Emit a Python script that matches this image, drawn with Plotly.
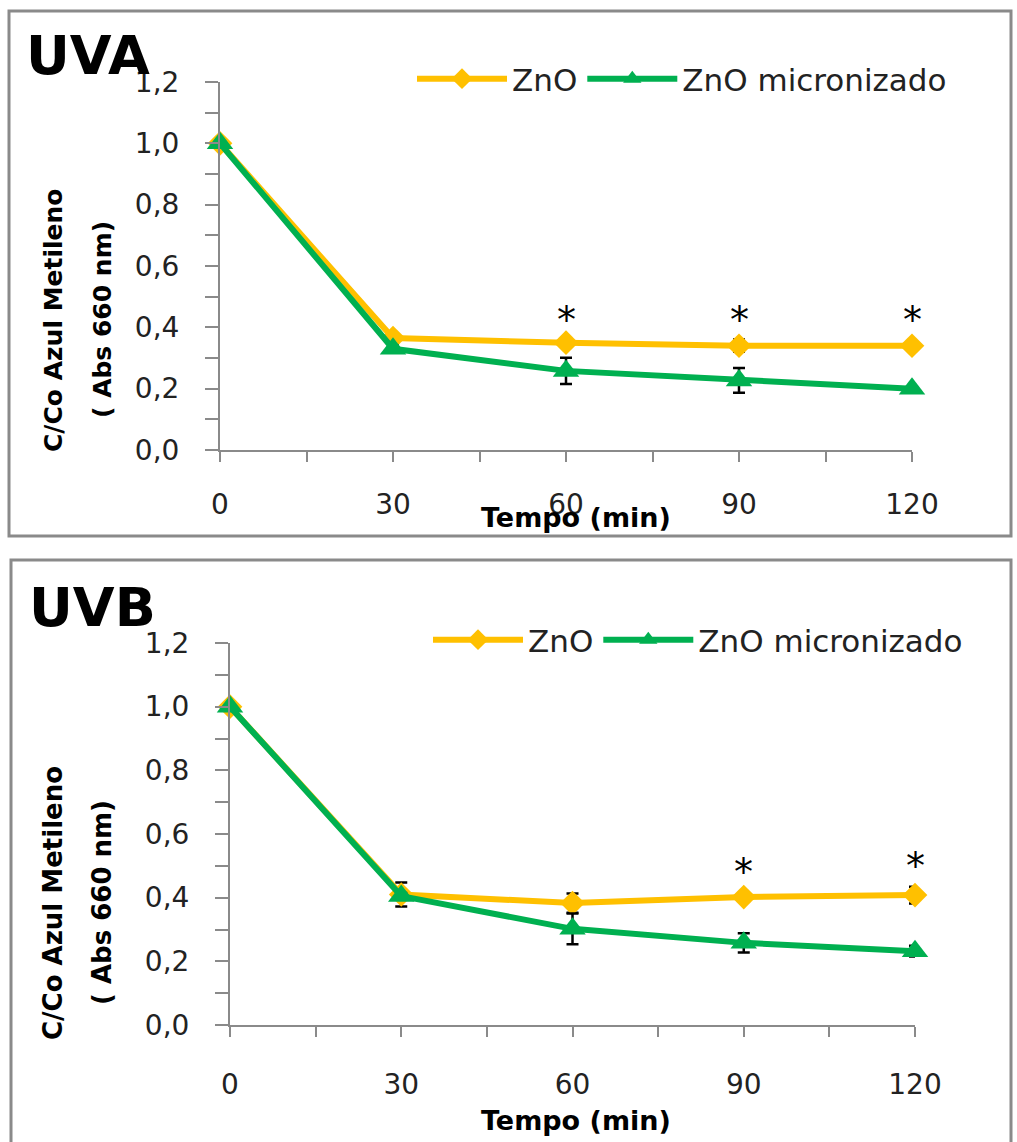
import plotly.graph_objects as go

# ---------------- data ----------------
time_min = [0, 30, 60, 90, 120]

uva_zno = [1.00, 0.365, 0.350, 0.340, 0.340]
uva_zno_err = [None, 0.012, 0.010, 0.020, 0.010]
uva_micro = [1.00, 0.330, 0.258, 0.227, 0.200]
uva_micro_err = [None, 0.010, 0.043, 0.040, 0.008]

uvb_zno = [1.00, 0.410, 0.383, 0.402, 0.408]
uvb_zno_err = [None, 0.038, 0.030, 0.010, 0.026]
uvb_micro = [1.00, 0.405, 0.302, 0.258, 0.232]
uvb_micro_err = [None, 0.010, 0.048, 0.030, 0.017]

uva_star_x = [60, 90, 120]
uva_star_y = [0.425, 0.425, 0.425]
uvb_star_x = [90, 120]
uvb_star_y = [0.48, 0.50]

series_names = ["ZnO", "ZnO micronizado"]
y_tickvals = [0.0, 0.2, 0.4, 0.6, 0.8, 1.0, 1.2]
x_tickvals = [0, 30, 60, 90, 120]
panel_titles = ["UVA", "UVB"]
y_title_1 = "C/Co Azul Metileno"
y_title_2 = "( Abs 660 nm)"
x_title = "Tempo (min)"

# ---------------- style ----------------
W, H = 1017, 1142
ORANGE = "#FFC000"
GREEN = "#00B050"
AXIS = "#8a8a8a"
FONT = "DejaVu Sans"
FONT_B = "DejaVu Sans"


def px(x):
    return x / W


def py(y):
    return 1 - y / H


fig = go.Figure()


def add_panel(xa, ya, zno, zno_err, mic, mic_err, legend):
    fig.add_trace(go.Scatter(
        x=time_min, y=zno, name=series_names[0], mode="lines+markers",
        xaxis=xa, yaxis=ya, legend=legend, cliponaxis=False,
        line=dict(color=ORANGE, width=6),
        marker=dict(symbol="diamond", size=19, color=ORANGE),
        error_y=dict(type="data", array=zno_err, color="black", thickness=2.5, width=6),
    ))
    fig.add_trace(go.Scatter(
        x=time_min, y=mic, name=series_names[1], mode="lines+markers",
        xaxis=xa, yaxis=ya, legend=legend, cliponaxis=False,
        line=dict(color=GREEN, width=6),
        marker=dict(symbol="triangle-up", size=23, color=GREEN),
        error_y=dict(type="data", array=mic_err, color="black", thickness=2.5, width=6),
    ))


add_panel("x", "y", uva_zno, uva_zno_err, uva_micro, uva_micro_err, "legend")
add_panel("x2", "y2", uvb_zno, uvb_zno_err, uvb_micro, uvb_micro_err, "legend2")


def xaxis_cfg(domain, standoff):
    return dict(
        domain=domain, range=[0, 120], tickvals=x_tickvals, automargin=False,
        ticks="outside", ticklen=10, tickwidth=2, tickcolor=AXIS,
        minor=dict(dtick=15, ticks="outside", ticklen=10, tickwidth=2, tickcolor=AXIS),
        showline=True, linecolor=AXIS, linewidth=2,
        showgrid=False, zeroline=False,
        tickfont=dict(family=FONT, size=28, color="#222222"),
        ticklabelstandoff=standoff,
    )


def yaxis_cfg(domain, anchor, standoff):
    return dict(
        domain=domain, range=[0, 1.2], tickvals=y_tickvals, tickformat=".1f",
        automargin=False,
        ticks="outside", ticklen=13, tickwidth=2, tickcolor=AXIS,
        minor=dict(dtick=0.1, ticks="outside", ticklen=13, tickwidth=2, tickcolor=AXIS),
        showline=True, linecolor=AXIS, linewidth=2,
        showgrid=False, zeroline=False, anchor=anchor,
        tickfont=dict(family=FONT, size=28, color="#222222"),
        ticklabelstandoff=standoff,
    )


legend_common = dict(orientation="h", xanchor="left", yanchor="middle",
                     font=dict(family=FONT, size=31, color="#222222"),
                     bgcolor="rgba(0,0,0,0)", itemwidth=90, traceorder="normal")

fig.update_layout(
    width=W, height=H, autosize=False,
    margin=dict(l=0, r=0, t=0, b=0, pad=0, autoexpand=False),
    paper_bgcolor="white", plot_bgcolor="white",
    separators=",.",
    xaxis=dict(xaxis_cfg([px(220), px(912)], 18), anchor="y"),
    yaxis=yaxis_cfg([py(450), py(82)], "x", 20),
    xaxis2=dict(xaxis_cfg([px(230), px(915)], 23), anchor="y2"),
    yaxis2=yaxis_cfg([py(1025), py(643)], "x2", 20),
    legend=dict(legend_common, x=px(412), y=py(79)),
    legend2=dict(legend_common, x=px(428), y=py(640)),
    showlegend=True,
)

# panel borders
fig.add_shape(type="rect", xref="paper", yref="paper",
              x0=px(9), x1=px(1011), y0=py(536), y1=py(11),
              line=dict(color=AXIS, width=3), fillcolor="rgba(0,0,0,0)", layer="below")
fig.add_shape(type="rect", xref="paper", yref="paper",
              x0=px(11), x1=px(1011), y0=py(1150), y1=py(560),
              line=dict(color=AXIS, width=3), fillcolor="rgba(0,0,0,0)", layer="below")

ann = []
# panel titles
ann.append(dict(text=f"<b>{panel_titles[0]}</b>", x=px(24), y=py(55), xref="paper", yref="paper",
                xanchor="left", yanchor="middle", showarrow=False,
                font=dict(family=FONT_B, size=54, color="black")))
ann.append(dict(text=f"<b>{panel_titles[1]}</b>", x=px(27), y=py(607), xref="paper", yref="paper",
                xanchor="left", yanchor="middle", showarrow=False,
                font=dict(family=FONT_B, size=54, color="black")))

# y axis titles
for cy, fs in ((320, 25), (903, 26)):
    ann.append(dict(text=f"<b>{y_title_1}</b>", x=px(53), y=py(cy), xref="paper", yref="paper",
                    xanchor="center", yanchor="middle", showarrow=False, textangle=-90,
                    font=dict(family=FONT_B, size=fs, color="black")))
    ann.append(dict(text=f"<b>{y_title_2}</b>", x=px(102), y=py(cy), xref="paper", yref="paper",
                    xanchor="center", yanchor="middle", showarrow=False, textangle=-90,
                    font=dict(family=FONT_B, size=fs, color="black")))

# x axis titles
for cy in (517, 1120):
    ann.append(dict(text=f"<b>{x_title}</b>", x=px(576), y=py(cy), xref="paper", yref="paper",
                    xanchor="center", yanchor="middle", showarrow=False,
                    font=dict(family=FONT_B, size=27, color="black")))

# significance stars
for sx, sy in zip(uva_star_x, uva_star_y):
    ann.append(dict(text="*", x=sx, y=sy, xref="x", yref="y", showarrow=False,
                    xanchor="center", yanchor="middle",
                    font=dict(family=FONT, size=38, color="black")))
for sx, sy in zip(uvb_star_x, uvb_star_y):
    ann.append(dict(text="*", x=sx, y=sy, xref="x2", yref="y2", showarrow=False,
                    xanchor="center", yanchor="middle",
                    font=dict(family=FONT, size=38, color="black")))

fig.update_layout(annotations=ann)

fig.write_html("out.html")
